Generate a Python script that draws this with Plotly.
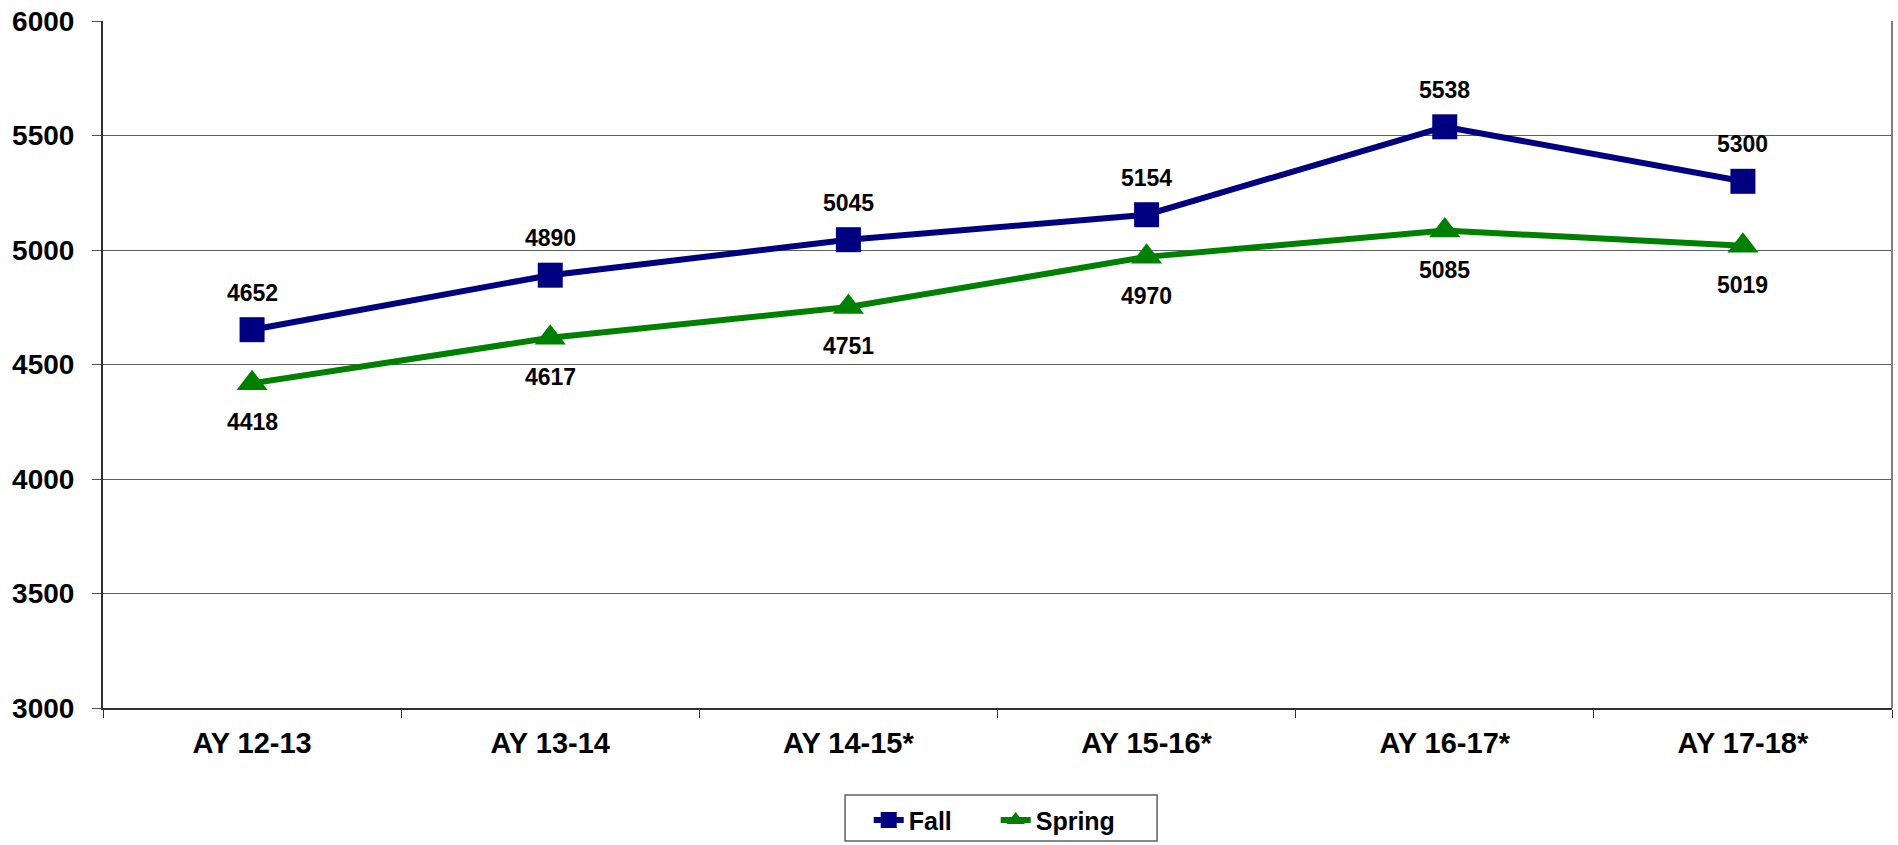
import plotly.graph_objects as go

categories = ["AY 12-13", "AY 13-14", "AY 14-15*", "AY 15-16*", "AY 16-17*", "AY 17-18*"]
fall = [4652, 4890, 5045, 5154, 5538, 5300]
spring = [4418, 4617, 4751, 4970, 5085, 5019]
y_ticks = [3000, 3500, 4000, 4500, 5000, 5500, 6000]

FONT = "Liberation Sans, Arial, sans-serif"
NAVY = "#000080"
GREEN = "#008000"

fig = go.Figure()
fig.add_trace(go.Scatter(
    x=categories, y=fall, name="Fall", mode="lines+markers",
    line=dict(color=NAVY, width=6),
    marker=dict(symbol="square", size=25, color=NAVY),
))
fig.add_trace(go.Scatter(
    x=categories, y=spring, name="Spring", mode="lines+markers",
    line=dict(color=GREEN, width=6),
    marker=dict(symbol="triangle-up", size=27, color=GREEN),
))

for c, v in zip(categories, fall):
    fig.add_annotation(x=c, y=v, text=str(v), showarrow=False, yshift=37,
                       font=dict(family=FONT, size=23, color="black", weight="bold"))
for c, v in zip(categories, spring):
    fig.add_annotation(x=c, y=v, text=str(v), showarrow=False, yshift=-39,
                       font=dict(family=FONT, size=23, color="black", weight="bold"))

# right border of plot area
fig.add_shape(type="line", xref="paper", yref="paper", x0=1, x1=1, y0=0, y1=1,
              line=dict(color="#808080", width=2))
# legend frame
fig.add_shape(type="rect", xref="paper", yref="paper",
              x0=0.4148, x1=0.5892, y0=-0.1266, y1=-0.1936,
              line=dict(color="#606060", width=1.5), fillcolor="rgba(0,0,0,0)")

fig.update_layout(
    width=1898, height=845,
    margin=dict(l=103, r=6, t=21, b=137, autoexpand=False),
    paper_bgcolor="white", plot_bgcolor="white",
    font=dict(family=FONT, color="black"),
    showlegend=True,
    legend=dict(
        orientation="h", x=0.499, xanchor="center", y=-0.130, yanchor="top",
        borderwidth=0, bgcolor="rgba(0,0,0,0)",
        font=dict(family=FONT, size=25, color="black", weight="bold"),
        entrywidth=82, entrywidthmode="pixels",
    ),
    xaxis=dict(
        type="category", range=[-0.5, 5.5],
        showline=True, linecolor="#303030", linewidth=2,
        ticks="outside", tickson="boundaries", ticklen=8, tickcolor="#303030",
        showgrid=False, zeroline=False, ticklabelstandoff=8,
        tickfont=dict(family=FONT, size=29, color="black", weight="bold"),
    ),
    yaxis=dict(
        range=[3000, 6000], tickvals=y_ticks,
        showline=True, linecolor="#303030", linewidth=2,
        ticks="outside", ticklen=9, tickcolor="#505050",
        showgrid=True, gridcolor="#606060", gridwidth=1.2,
        zeroline=False, ticklabelstandoff=12,
        tickfont=dict(family=FONT, size=28, color="black", weight="bold"),
    ),
)

fig.write_html("out.html", config={"displayModeBar": False},
               post_script="document.body.style.margin='0';document.body.style.padding='0';")
